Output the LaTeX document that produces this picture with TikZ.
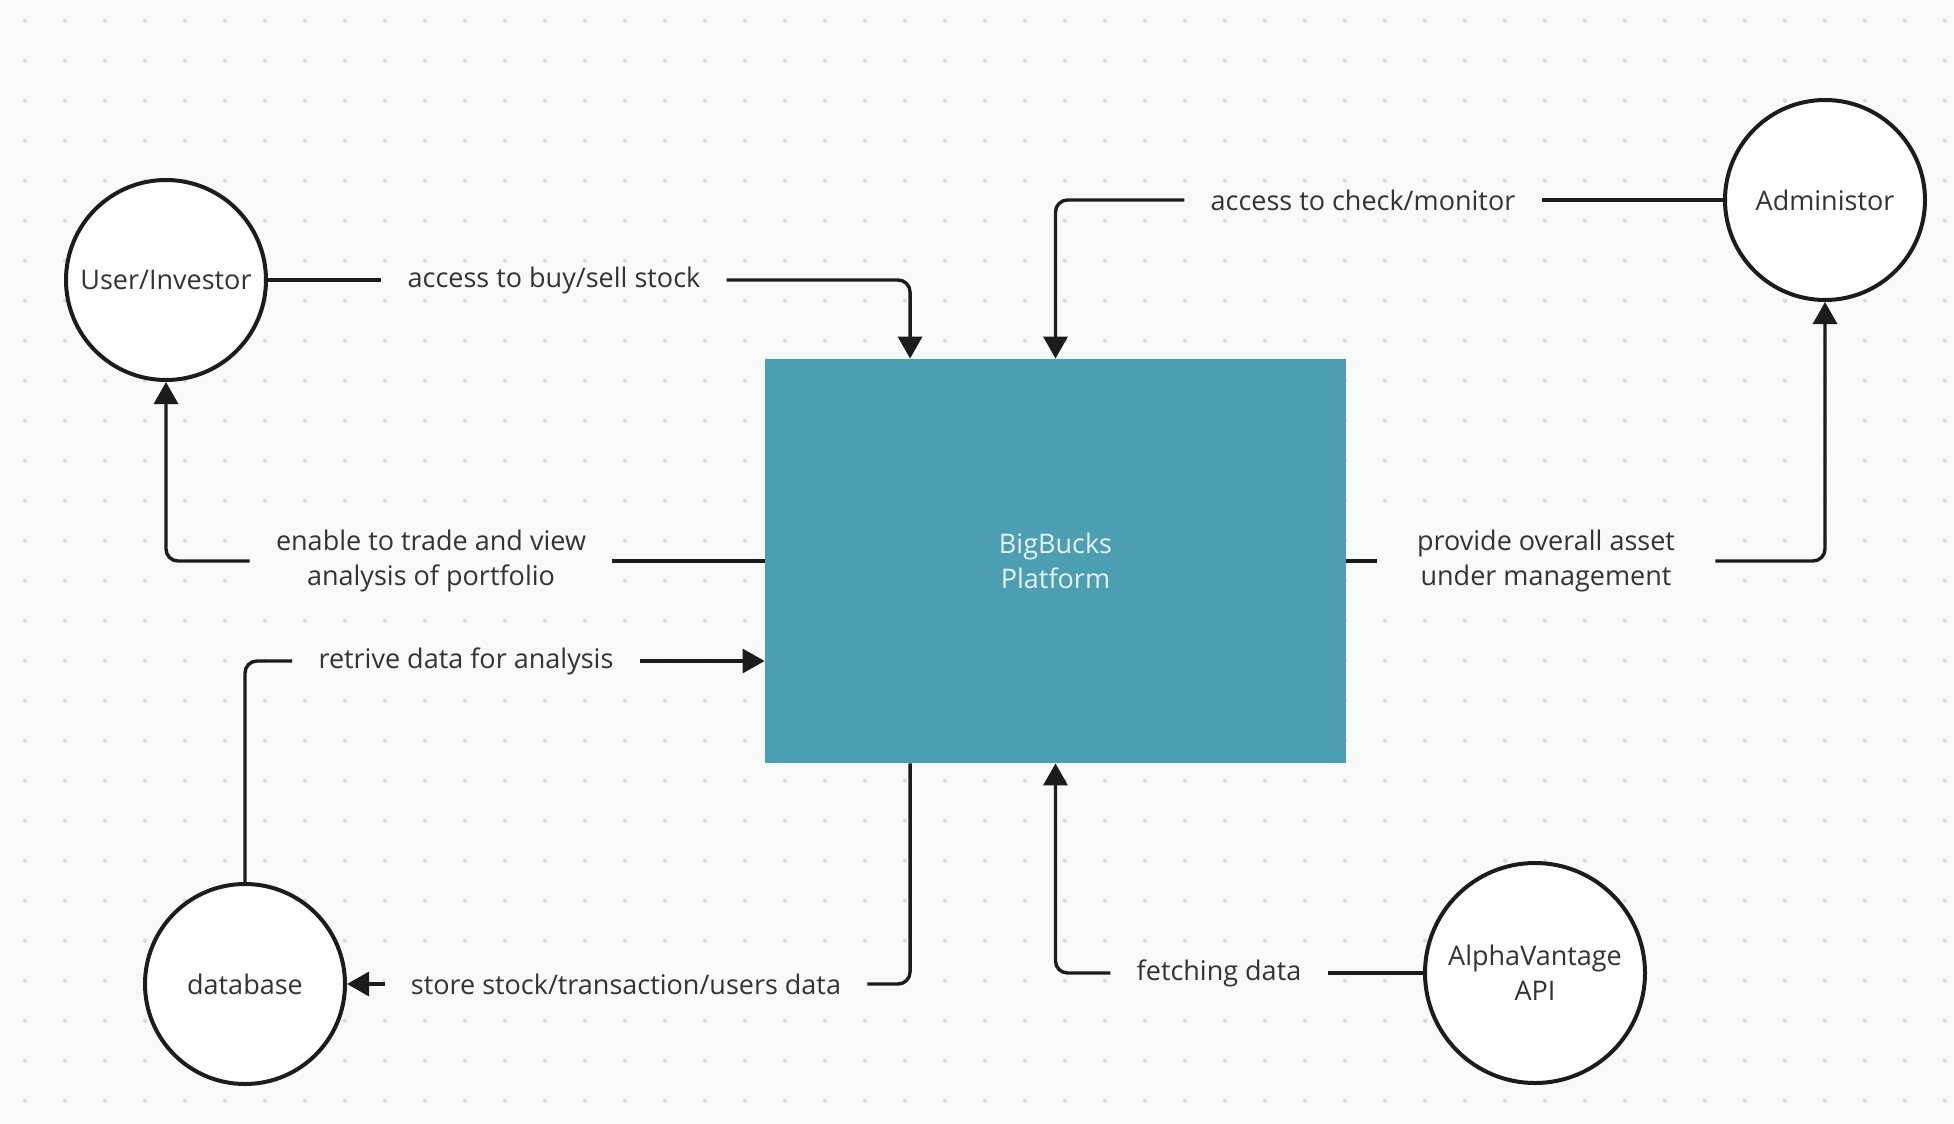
\documentclass[tikz,border=0pt]{standalone}
\usepackage{fontspec}
\setmainfont{Open Sans}
\usetikzlibrary{arrows.meta,calc}
\definecolor{canvas}{HTML}{F9F9FB}
\definecolor{griddot}{HTML}{DADBE0}
\definecolor{platformfill}{HTML}{4C9FB2}
\definecolor{platformtext}{HTML}{E8F1F4}
\definecolor{ink}{HTML}{1C1C1C}
\definecolor{txt}{HTML}{333333}
\begin{document}
\begin{tikzpicture}[x=0.5pt,y=-0.5pt,
    font=\fontsize{13.5}{17.5}\selectfont,
    actor/.style={draw=ink,line width=2pt,fill=white,circle,inner sep=0,minimum size=100pt,text=txt,align=center},
    flowlabel/.style={fill=canvas,inner xsep=13pt,inner ysep=2pt,text=txt,align=center},
    flow/.style={draw=ink,line width=1.7pt,rounded corners=6pt},
    tip/.style={-{Triangle[length=11pt,width=12pt]}}]
    % canvas with dot grid
    \fill[canvas] (0,0) rectangle (1954,1124);
    \foreach \i in {0,...,48}
        \foreach \j in {0,...,27}
            \fill[griddot] ({25+40*\i},{20.7+40*\j}) circle [radius=1.1pt];

    \node[fill=platformfill,minimum width=290.5pt,minimum height=202pt,text=platformtext,align=center] (platform) at (1055.5,561) {BigBucks\\Platform};
    \coordinate (pbuy) at ($(platform.north west)!0.25!(platform.north east)$);
    \coordinate (pstore) at ($(platform.south west)!0.25!(platform.south east)$);

    \node[actor] (user) at (166,280) {User/Investor};
    \node[actor] (admin) at (1825,200) {Administor};
    \node[actor] (db) at (245,984) {database};
    \node[actor,minimum size=110pt] (api) at (1535,973) {AlphaVantage\\API};

    \node[flowlabel] (lbuy) at (554,280) {access to buy/sell stock};
    \node[flowlabel] (lcheck) at (1363,200) {access to check/monitor};
    \node[flowlabel] (ltrade) at (431,561) {enable to trade and view\\analysis of portfolio};
    \node[flowlabel,inner xsep=20pt] (lasset) at (1546,561) {provide overall asset\\under management};
    \node[flowlabel] (lretrieve) at (466,661) {retrive data for analysis};
    \node[flowlabel] (lstore) at (626,984) {store stock/transaction/users data};
    \node[flowlabel] (lfetch) at (1219,973) {fetching data};

    \draw[flow] (user) -- (lbuy);
    \draw[flow,tip] (lbuy.east) -| (pbuy);
    \draw[flow] (admin) -- (lcheck);
    \draw[flow,tip] (lcheck.west) -| (platform.north);
    \draw[flow] (platform) -- (ltrade);
    \draw[flow,tip] (ltrade.west) -| (user.south);
    \draw[flow] (platform) -- (lasset);
    \draw[flow,tip] (lasset.east) -| (admin.south);
    \draw[flow] (db.north) |- (lretrieve.west);
    \draw[flow,tip] (lretrieve.east) -- (platform.west |- lretrieve);
    \draw[flow] (pstore) |- (lstore.east);
    \draw[flow,tip] (lstore) -- (db);
    \draw[flow] (api) -- (lfetch);
    \draw[flow,tip] (lfetch.west) -| (platform.south);
\end{tikzpicture}
\end{document}
